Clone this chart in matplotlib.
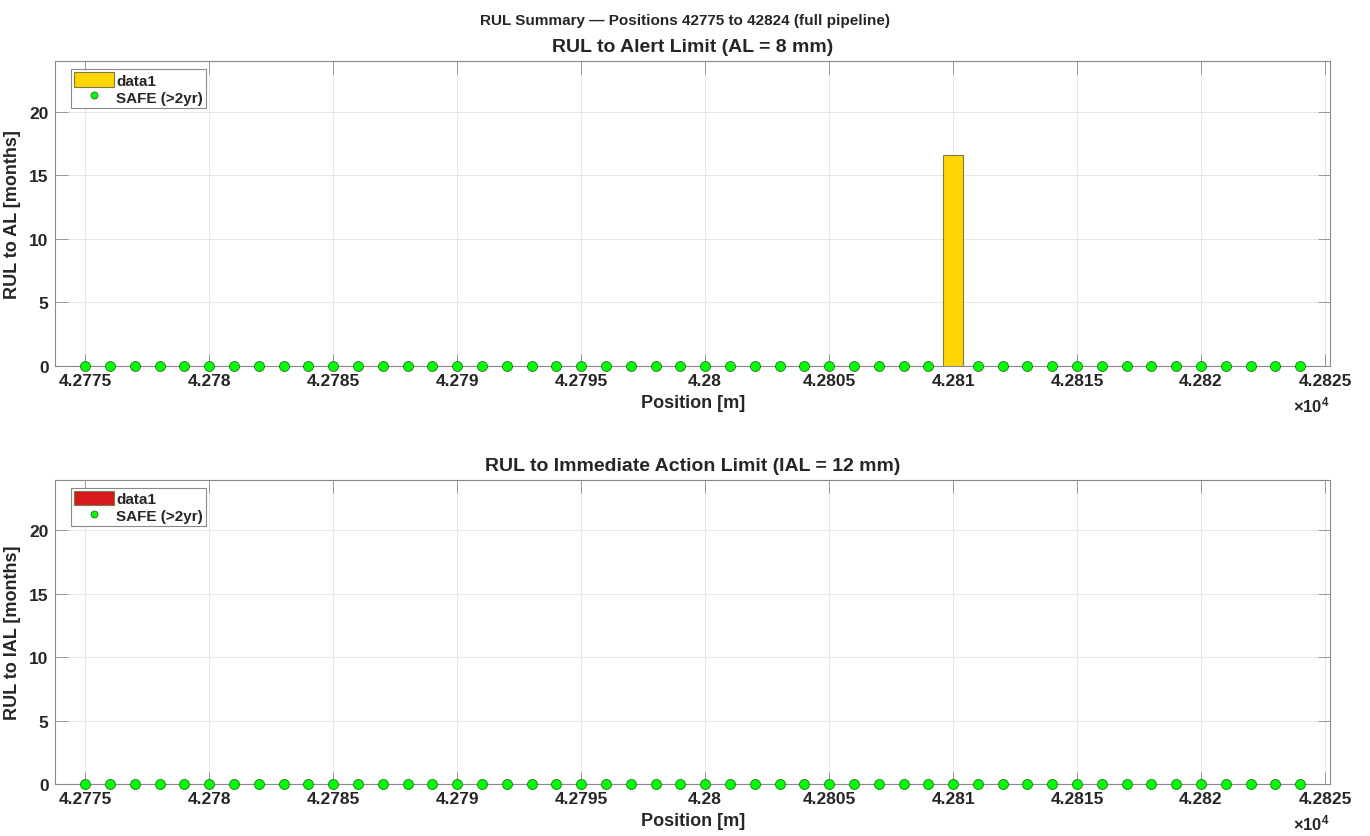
import matplotlib
matplotlib.use("Agg")
import matplotlib.pyplot as plt
import numpy as np

# positions along track [m]
positions = list(range(42775, 42825))

# RUL to Alert Limit (months) - only one position not safe
al_rul = [0.0] * 35 + [16.6] + [0.0] * 14
al_safe_pos = [p for p in positions if p != 42810]

# RUL to Immediate Action Limit (months) - all safe
ial_rul = [0.0] * 50
ial_safe_pos = positions[:]

xticks = list(range(42775, 42826, 5))
xtick_labels = [f"{t / 1e4:g}" for t in xticks]
yticks = [0, 5, 10, 15, 20]

plt.rcParams['font.family'] = ['Liberation Sans', 'DejaVu Sans']
plt.rcParams['font.weight'] = 'bold'
plt.rcParams['mathtext.fontset'] = 'custom'
plt.rcParams['mathtext.rm'] = 'Liberation Sans'
plt.rcParams['mathtext.bf'] = 'Liberation Sans:bold'

TXT = '#262626'
AXC = '#8a8a8a'

fig = plt.figure(figsize=(13.7, 8.37), dpi=100)
ax1 = fig.add_axes([0.0405, 0.5615, 0.9303, 0.3644])
ax2 = fig.add_axes([0.0405, 0.0618, 0.9303, 0.3639])


def style_ax(ax, title, ylab, vals, safe, barcol):
    b = ax.bar(positions, vals, width=0.8, color=barcol, edgecolor='#7a7a4a',
               linewidth=0.8, label='data1', zorder=2)
    ln, = ax.plot(safe, [0] * len(safe), 'o', ms=7.2, mfc='#00ff00', mec='#2a6e2a',
                  mew=0.6, ls='none', label='SAFE (>2yr)', zorder=3, clip_on=False)
    ax.set_xlim(42773.8, 42825.2)
    ax.set_ylim(0, 24)
    ax.set_xticks(xticks)
    ax.set_xticklabels(xtick_labels)
    ax.set_yticks(yticks)
    ax.grid(True, color='#e6e6e6', lw=0.7, zorder=0)
    ax.set_axisbelow(True)
    ax.tick_params(direction='in', length=9, width=0.6, color=AXC, top=True,
                   right=True, labelsize=12.5, labelcolor=TXT, pad=5)
    for s in ax.spines.values():
        s.set_color(AXC)
        s.set_linewidth(0.8)
    ax.set_title(title, fontsize=14, fontweight='bold', color=TXT, pad=7)
    ax.set_xlabel('Position [m]', fontsize=13, fontweight='bold', color=TXT, labelpad=4)
    ax.set_ylabel(ylab, fontsize=13, fontweight='bold', color=TXT, labelpad=6)
    ax.text(1.0, -0.125, r'$\mathbf{\times 10^{4}}$', transform=ax.transAxes,
            ha='right', va='center', fontsize=12, color=TXT)
    leg = ax.legend([b, ln], ['data1', 'SAFE (>2yr)'], loc='upper left', fontsize=11,
                    bbox_to_anchor=(0.0125, 0.974), borderaxespad=0,
                    frameon=True, fancybox=False, edgecolor=AXC, framealpha=1,
                    borderpad=0.2, labelspacing=0.1, handlelength=2.6,
                    handleheight=1.1, handletextpad=0.15, markerscale=0.7)
    leg.get_frame().set_linewidth(0.8)
    for t in leg.get_texts():
        t.set_color(TXT)


style_ax(ax1, 'RUL to Alert Limit (AL = 8 mm)', 'RUL to AL [months]',
         al_rul, al_safe_pos, '#ffd700')
style_ax(ax2, 'RUL to Immediate Action Limit (IAL = 12 mm)', 'RUL to IAL [months]',
         ial_rul, ial_safe_pos, '#d7191c')

fig.suptitle('RUL Summary — Positions 42775 to 42824 (full pipeline)',
             fontsize=11, fontweight='bold', color=TXT, y=0.983)

fig.savefig('out.png', dpi=100)
